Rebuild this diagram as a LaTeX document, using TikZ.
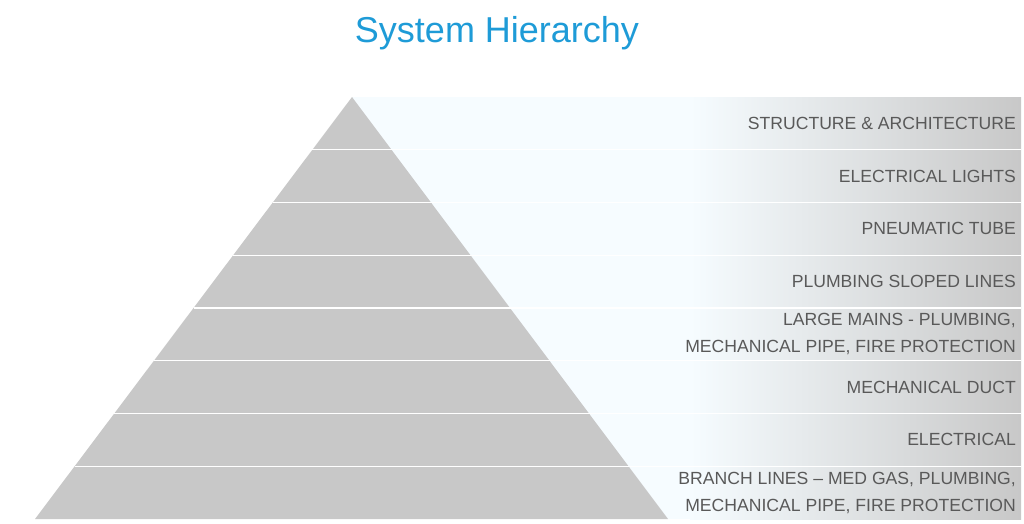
\documentclass[tikz,border=0pt]{standalone}
\usepackage{fontspec}
\setmainfont{Liberation Sans}
\usepackage{xcolor}
\usetikzlibrary{positioning, calc}

\definecolor{titleblue}{RGB}{30,155,215}
\definecolor{labelgray}{RGB}{89,89,89}
\definecolor{pyramidgray}{RGB}{200,200,200}
\definecolor{fadecyan}{RGB}{246,252,255}

\begin{document}
\begin{tikzpicture}[x=1pt, y=-1pt,
    every node/.style={inner sep=0pt, text=labelgray, font=\fontsize{17.6}{27}\selectfont},
    levellabel/.style={anchor=east, align=right},
    separator/.style={white, line width=1.3pt}]
    \useasboundingbox (0,0) rectangle (1024,523);
    % fade behind the labels
    \fill[fadecyan] (352,97) rectangle (691,519);
    \shade[left color=fadecyan, right color=pyramidgray] (690,97) rectangle (1021,519);
    % pyramid
    \coordinate (apex) at (352,97);
    \coordinate (baseleft) at (35,519);
    \coordinate (baseright) at (668,519);
    \fill[pyramidgray] (apex) -- (baseright) -- (baseleft) -- cycle;
    \foreach \i in {1,...,7}
        \draw[separator] ($(apex)!\i/8!(baseleft)$) -- (1021,{97+\i*52.75});
    % title
    \node[text=titleblue, font=\fontsize{36}{40}\selectfont] (title) at (497,33) {System Hierarchy};
    % levels, top to bottom
    \node[levellabel] (structure) at (1016,123.4) {STRUCTURE \& ARCHITECTURE};
    \node[levellabel] (lights) at (1016,176.1) {ELECTRICAL LIGHTS};
    \node[levellabel] (tube) at (1016,228.9) {PNEUMATIC TUBE};
    \node[levellabel] (sloped) at (1016,281.6) {PLUMBING SLOPED LINES};
    \node[levellabel] (mains) at (1016,334.4) {LARGE MAINS - PLUMBING,\\MECHANICAL PIPE, FIRE PROTECTION};
    \node[levellabel] (duct) at (1016,387.1) {MECHANICAL DUCT};
    \node[levellabel] (electrical) at (1016,439.9) {ELECTRICAL};
    \node[levellabel] (branch) at (1016,492.6) {BRANCH LINES – MED GAS, PLUMBING,\\MECHANICAL PIPE, FIRE PROTECTION};
\end{tikzpicture}
\end{document}
